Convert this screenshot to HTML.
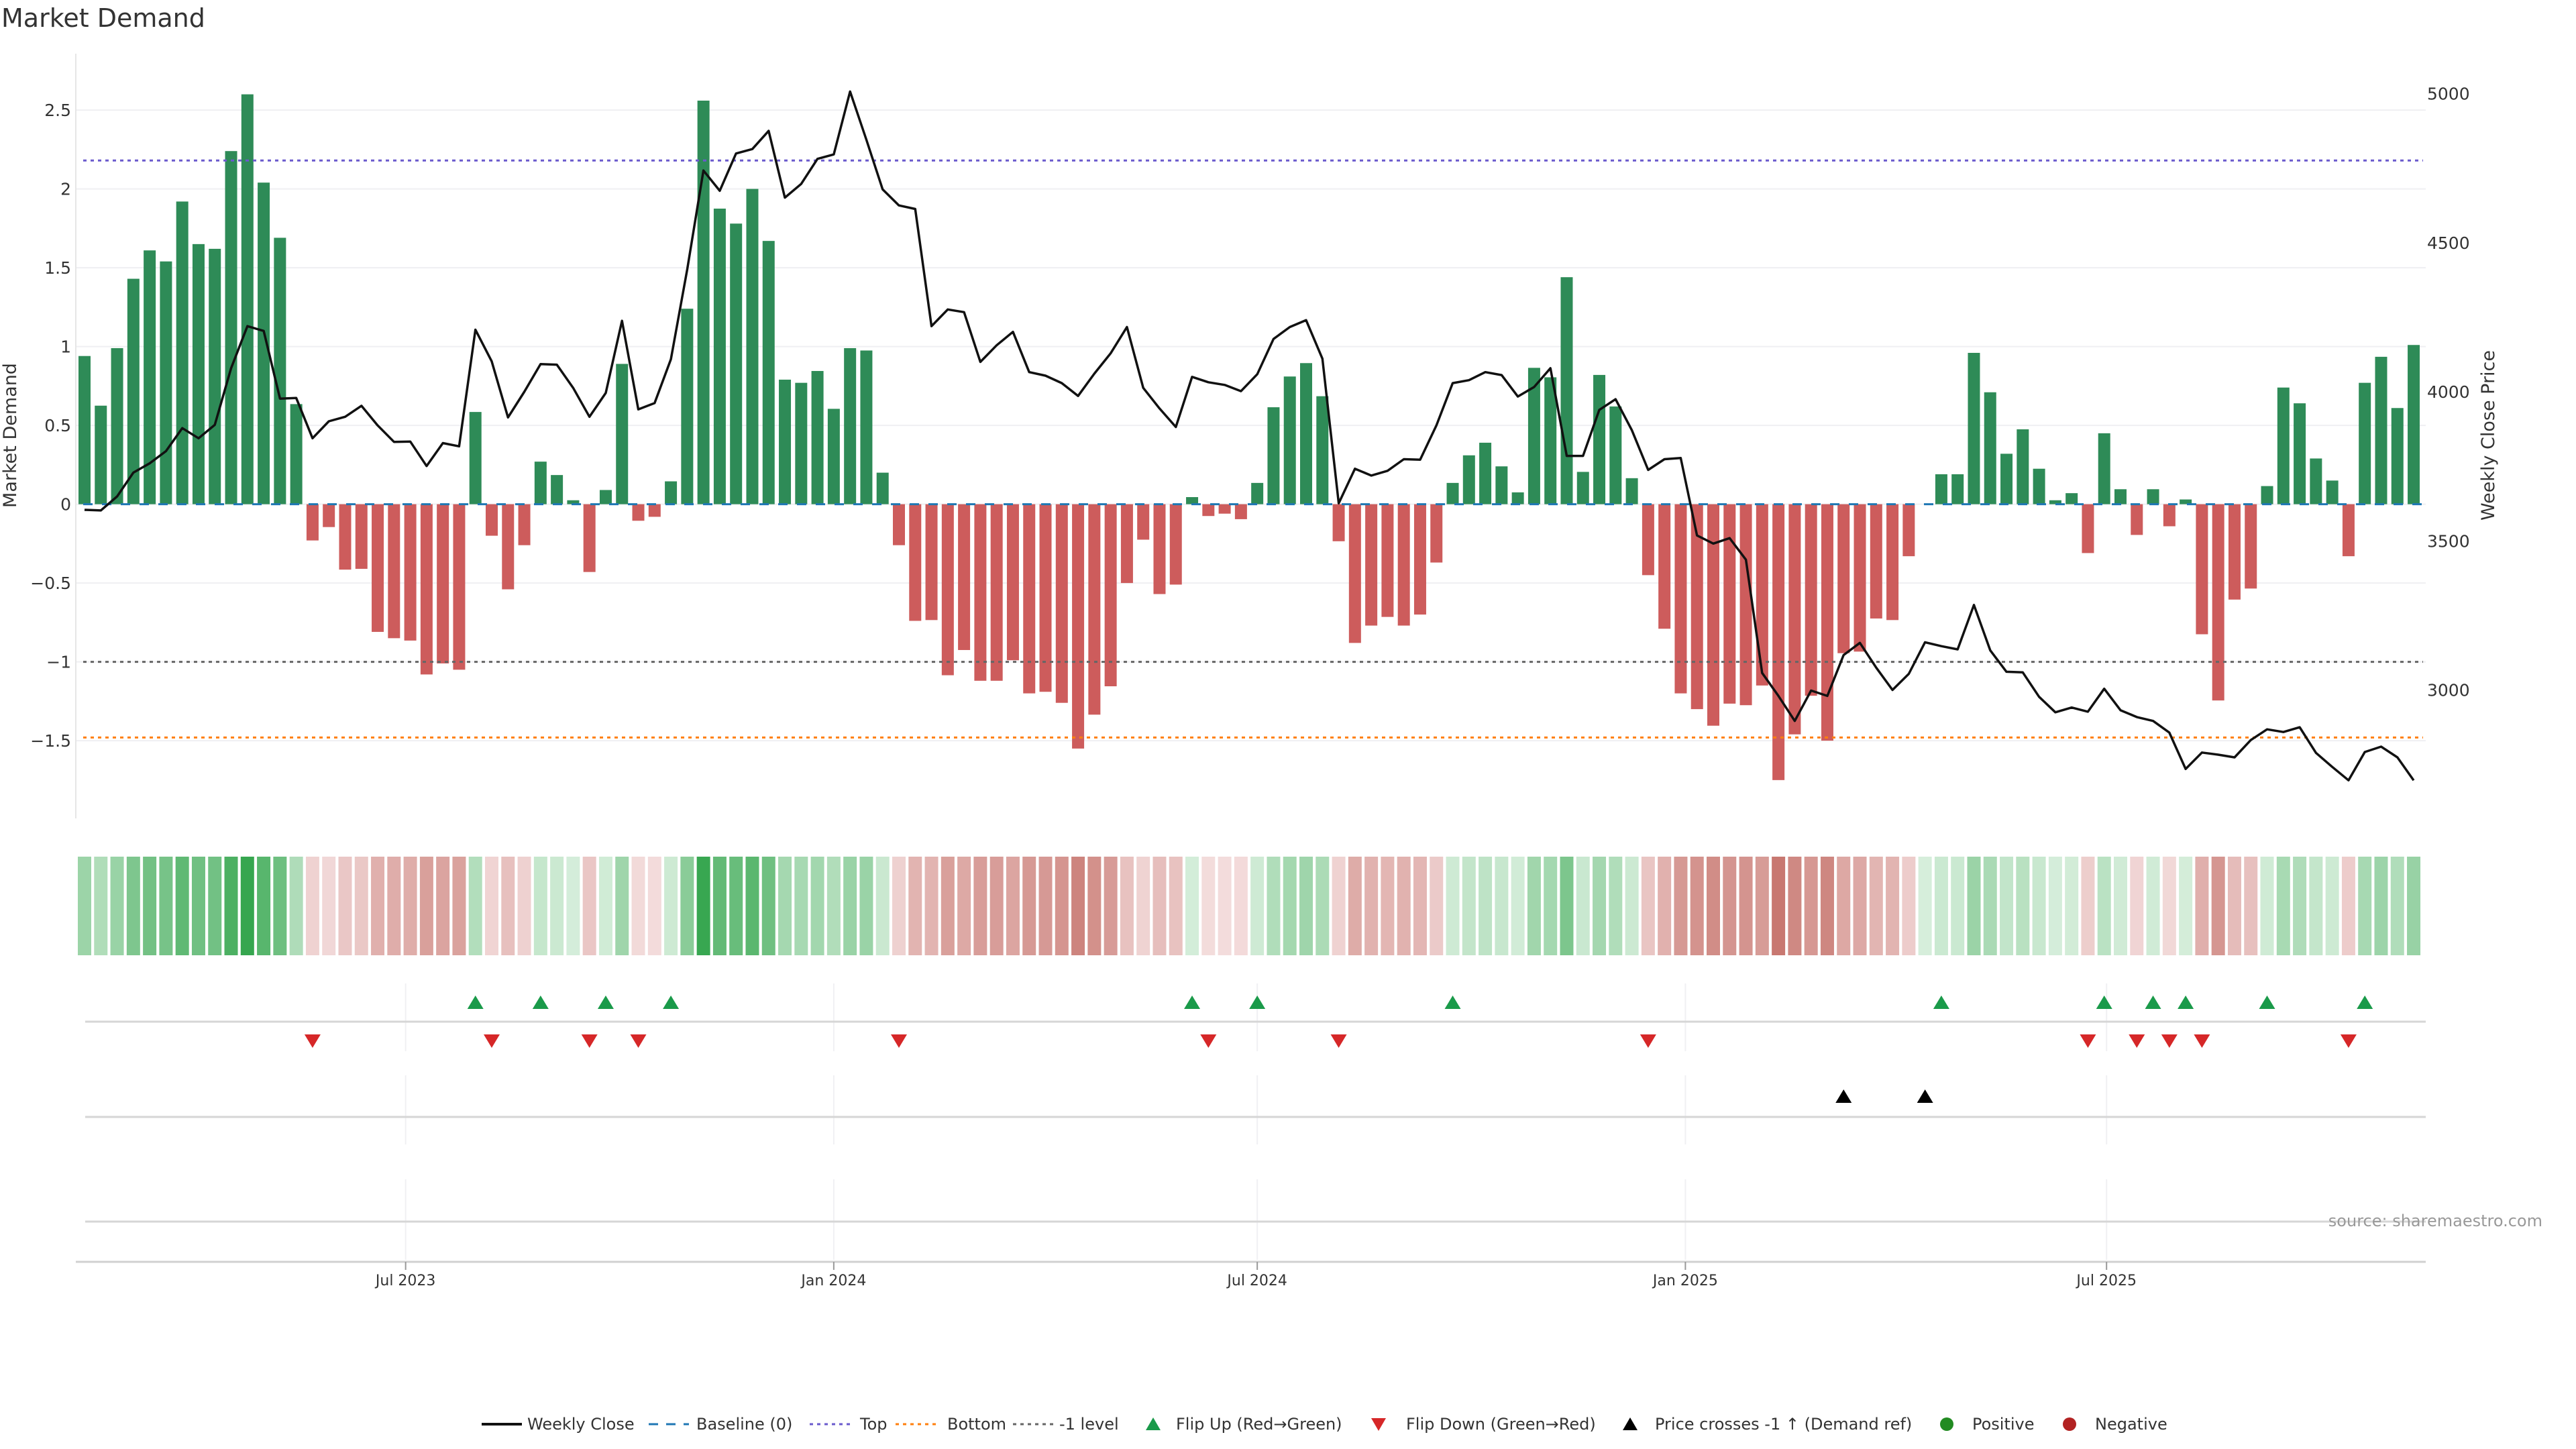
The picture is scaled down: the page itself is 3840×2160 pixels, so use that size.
<!DOCTYPE html>
<html><head><meta charset="utf-8"><title>Market Demand</title>
<style>
html,body{margin:0;padding:0;background:#fff;}
svg{display:block;font-family:"DejaVu Sans","Liberation Sans",sans-serif;}
</style></head>
<body>
<svg id="chart" xmlns="http://www.w3.org/2000/svg" width="3840" height="2160" viewBox="0 0 3840 2160">
<rect width="3840" height="2160" fill="#fff"/>
<text x="2" y="40" font-size="38" fill="#333">Market Demand</text>
<g id="grid"></g>
<g id="panels"></g>
<g id="bars"></g>
<g id="refs"></g>
<g id="price"></g>
<g id="heat"></g>
<g id="marks"></g>
<g id="axes"></g>
<text x="24" y="649" font-size="27" fill="#333" text-anchor="middle" transform="rotate(-90 24 649)">Market Demand</text>
<text x="3718" y="649" font-size="27" fill="#333" text-anchor="middle" transform="rotate(-90 3718 649)">Weekly Close Price</text>
<text x="3790" y="1828" font-size="24" fill="#999" text-anchor="end">source: sharemaestro.com</text>
<g id="legend" font-size="24" fill="#333"></g>
</svg>
<script>
const demand = [0.94,0.625,0.99,1.43,1.61,1.54,1.92,1.65,1.62,2.24,2.60,2.04,1.69,0.635,
-0.23,-0.145,-0.415,-0.41,-0.81,-0.85,-0.865,-1.08,-1.01,-1.05,0.585,-0.20,-0.54,-0.26,
0.27,0.185,0.025,-0.43,0.09,0.89,-0.105,-0.08,0.145,1.24,2.56,1.875,1.78,2.0,1.67,0.79,
0.77,0.845,0.605,0.99,0.975,0.20,-0.26,-0.74,-0.735,-1.085,-0.925,-1.12,-1.12,-0.99,-1.2,
-1.19,-1.26,-1.55,-1.335,-1.155,-0.50,-0.225,-0.57,-0.51,0.045,-0.075,-0.06,-0.095,0.135,
0.615,0.81,0.895,0.685,-0.235,-0.88,-0.77,-0.715,-0.77,-0.70,-0.37,0.135,0.31,0.39,0.24,
0.075,0.865,0.805,1.44,0.205,0.82,0.62,0.165,-0.45,-0.79,-1.2,-1.30,-1.405,-1.265,-1.275,
-1.15,-1.75,-1.46,-1.215,-1.50,-0.945,-0.935,-0.725,-0.735,-0.33,0,0.19,0.19,0.96,0.71,
0.32,0.475,0.225,0.025,0.07,-0.31,0.45,0.095,-0.195,0.095,-0.14,0.03,-0.825,-1.245,-0.605,
-0.535,0.115,0.74,0.64,0.29,0.15,-0.33,0.77,0.935,0.61,1.01];
const closes = [3604,3602,3649,3729,3760,3801,3878,3844,3889,4079,4220,4204,3977,3979,3844,
3901,3916,3953,3887,3832,3833,3751,3828,3817,4208,4102,3914,4000,4093,4091,4013,3916,3996,
4238,3941,3962,4109,4410,4742,4674,4799,4814,4875,4651,4697,4781,4796,5007,4846,4679,4625,
4613,4220,4276,4267,4100,4156,4201,4066,4054,4029,3986,4061,4129,4217,4013,3944,3882,4050,
4032,4023,4002,4059,4177,4217,4240,4111,3626,3742,3719,3735,3774,3772,3887,4029,4039,4066,
4056,3984,4016,4079,3785,3785,3939,3975,3871,3738,3774,3778,3518,3491,3509,3437,3057,2980,
2896,2998,2980,3117,3158,3075,3000,3054,3160,3147,3136,3285,3133,3061,3059,2977,2925,2941,
2927,3004,2932,2909,2896,2857,2735,2790,2783,2774,2832,2868,2859,2875,2789,2742,2697,2792,
2810,2774,2697];
const demandTicks = [2.5,2,1.5,1,0.5,0,-0.5,-1,-1.5];
const priceTicks = [5000,4500,4000,3500,3000];
const dateTicks = ["2023-07-01","2024-01-01","2024-07-01","2025-01-01","2025-07-01"];
const dateLabels = ["Jul 2023","Jan 2024","Jul 2024","Jan 2025","Jul 2025"];
const topLevel = 2.18, bottomLevel = -1.48, minusOneLevel = -1;
const firstDate = "2023-02-13";

const NS="http://www.w3.org/2000/svg";
const X0=126, STEP=24.28, PL=113, PR=3616;
const xI=i=>X0+i*STEP;
const yD=v=>751.6-v*235;
const yP=p=>139.5+(5000-p)*0.4445;
const xDate=s=>X0+(new Date(s)-new Date(firstDate))/86400000/7*STEP;
function mk(tag,attrs,parent){const e=document.createElementNS(NS,tag);for(const k in attrs)e.setAttribute(k,attrs[k]);parent.appendChild(e);return e;}
const G=id=>document.getElementById(id);

demandTicks.forEach(t=>{
  const l=mk('line',{x1:PL,x2:PR,y1:yD(t),y2:yD(t),stroke:'#efeff2','stroke-width':2},G('grid'));
  
  
  const tx=mk('text',{x:106,y:yD(t)+9,'font-size':25,fill:'#333','text-anchor':'end'},G('axes'));
  tx.textContent=(t<0?'\u2212'+(-t):String(t));
  
  
});
priceTicks.forEach(p=>{
  const tx=mk('text',{x:3618,y:yP(p)+9,'font-size':25,fill:'#333'},G('axes'));
  tx.textContent=String(p);
  
  
});
const ax=mk('line',{x1:PL,x2:PL,y1:80,y2:1220,stroke:'#e6e6e6','stroke-width':2},G('axes'));



[[1466,1567],[1603,1706],[1758,1878]].forEach(r=>{
  dateTicks.forEach(d=>{
    const l=mk('line',{x1:xDate(d),x2:xDate(d),y1:r[0],y2:r[1],stroke:'#f0f0f3','stroke-width':2},G('panels'));
    
    
  });
});
[1523,1665,1821].forEach(y=>{
  const l=mk('line',{x1:127,x2:PR,y1:y,y2:y,stroke:'#d6d6d6','stroke-width':3},G('panels'));
  
  
});
const xa=mk('line',{x1:PL,x2:PR,y1:1881,y2:1881,stroke:'#d0d0d0','stroke-width':3},G('axes'));


dateTicks.forEach((d,k)=>{
  const x=xDate(d);
  const t=mk('line',{x1:x,x2:x,y1:1881,y2:1893,stroke:'#999','stroke-width':2},G('axes'));
  
  
  const tx=mk('text',{x:x,y:1916,'font-size':22,fill:'#333','text-anchor':'middle'},G('axes'));
  tx.textContent=dateLabels[k];
  
  
});

demand.forEach((v,i)=>{
  const y0=yD(0),y1=yD(v);
  const r=mk('rect',{x:xI(i)-9,y:Math.min(y0,y1),width:18,height:Math.abs(y1-y0),fill:v>=0?'#2e8b57':'#cd5c5c'},G('bars'));
  
  
});

function refLine(v,color,dash,name){
  const l=mk('line',{x1:124,x2:3612,y1:yD(v),y2:yD(v),stroke:color,'stroke-width':3,'stroke-dasharray':dash},G('refs'));
  
  
}
refLine(0,'#1f77b4','14 14','baseline-zero-line');
refLine(topLevel,'#6a5acd','5 6','top-level-line');
refLine(bottomLevel,'#ff7f0e','5 6','bottom-level-line');
refLine(minusOneLevel,'#666','5 6','minus-one-level-line');

const pl=mk('polyline',{points:closes.map((p,i)=>xI(i).toFixed(1)+','+yP(p).toFixed(1)).join(' '),fill:'none',stroke:'#111','stroke-width':3.5,'stroke-linejoin':'round'},G('price'));



function mix(a,b,t){return 'rgb('+a.map((c,k)=>Math.round(c+(b[k]-c)*t)).join(',')+')';}
demand.forEach((v,i)=>{
  const col=v>=0?mix([214,238,219],[54,166,79],Math.min(v/2.6,1)):mix([245,224,224],[200,120,113],Math.min(-v/1.75,1));
  const r=mk('rect',{x:xI(i)-10,y:1277,width:20,height:147,fill:col},G('heat'));
  
  
});

function tri(x,y,up,color,name){
  const pts=up?[[x-12,y+10],[x+12,y+10],[x,y-10]]:[[x-12,y-10],[x+12,y-10],[x,y+10]];
  const p=mk('polygon',{points:pts.map(q=>q.join(',')).join(' '),fill:color},G('marks'));
  
  
}
let prevSign=0;
demand.forEach((v,i)=>{
  const s=v>0?1:(v<0?-1:0);
  if(s!==0){
    if(prevSign===-1&&s===1)tri(xI(i),1494,true,'#1a9a4a','flip-up-marker');
    if(prevSign===1&&s===-1)tri(xI(i),1552,false,'#d62728','flip-down-marker');
    prevSign=s;
  }
});
const levelPrice=5000-(yD(minusOneLevel)-139.5)/0.4445;
closes.forEach((p,i)=>{
  if(i>0&&closes[i-1]<levelPrice&&p>=levelPrice)tri(xI(i),1634,true,'#000','price-cross-marker');
});

const L=G('legend');
function ltext(x,s){const t=mk('text',{x:x,y:2131},L);t.textContent=s;}
function lline(x,color,dash,w){const l=mk('line',{x1:x,x2:x+60,y1:2123,y2:2123,stroke:color,'stroke-width':w,'stroke-dasharray':dash},L);}
lline(718,'#111','none',4);ltext(786,'Weekly Close');
lline(967,'#1f77b4','14 12',3);ltext(1038,'Baseline (0)');
lline(1207,'#6a5acd','5 6',3);ltext(1282,'Top');
lline(1335,'#ff7f0e','5 6',3);ltext(1412,'Bottom');
lline(1510,'#666','5 6',3);ltext(1579,'-1 level');
function ltri(x,up,color){const pts=up?[[x-11,2132],[x+11,2132],[x,2113]]:[[x-11,2114],[x+11,2114],[x,2133]];const p=mk('polygon',{points:pts.map(q=>q.join(',')).join(' '),fill:color},L);}
ltri(1719,true,'#1a9a4a');ltext(1753,'Flip Up (Red\u2192Green)');
ltri(2055,false,'#d62728');ltext(2096,'Flip Down (Green\u2192Red)');
ltri(2430,true,'#000');ltext(2467,'Price crosses -1 \u2191 (Demand ref)');
function ldot(x,color){const c=mk('circle',{cx:x,cy:2123,r:10,fill:color},L);}
ldot(2902,'#228b22');ltext(2940,'Positive');
ldot(3085,'#b22222');ltext(3123,'Negative');
</script>
</body></html>
